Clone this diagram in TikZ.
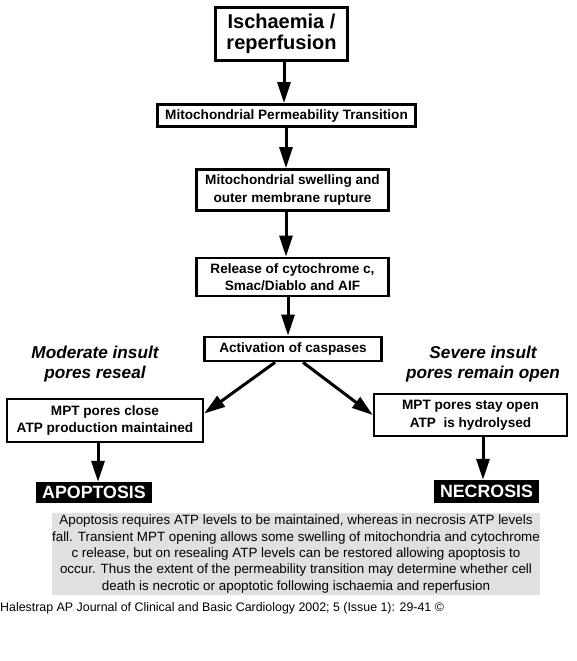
\documentclass[tikz,border=0pt]{standalone}
\usepackage{fontspec}
\setmainfont{Liberation Sans}
\usetikzlibrary{arrows.meta,calc}
\definecolor{boxgray}{HTML}{E0E0E0}
\begin{document}
\begin{tikzpicture}[x=1pt,y=1pt,
  flowbox/.style={draw, line width=2.8pt, align=center, inner sep=0pt,
    font=\bfseries\fontsize{13.6}{17.5}\selectfont},
  sidebox/.style={draw, line width=2.4pt, align=center, inner sep=0pt,
    font=\bfseries\fontsize{13.6}{17.5}\selectfont},
  endbox/.style={fill=black, text=white, inner sep=0pt,
    font=\bfseries\fontsize{17.8}{20}\selectfont},
  insult/.style={align=center, font=\bfseries\itshape\fontsize{17.2}{20.5}\selectfont},
  arr/.style={line width=3pt, -{Triangle[width=13pt,length=21pt]}}]
\useasboundingbox (0,0) rectangle (576,-661);
\fill[white] (0,0) rectangle (576,-661);

\node[flowbox, line width=3.2pt, minimum width=132pt, minimum height=53pt,
  font=\bfseries\fontsize{20}{21.5}\selectfont] (isch) at (281.5,-34) {Ischaemia /\\reperfusion};
\node[flowbox, minimum width=258pt, minimum height=22pt] (mpt) at (286.5,-115.5) {Mitochondrial Permeability Transition};
\node[flowbox, minimum width=192pt, minimum height=41pt] (swell) at (292.5,-190) {Mitochondrial swelling and\\outer membrane rupture};
\node[flowbox, minimum width=192pt, minimum height=38pt] (rel) at (292.5,-277) {Release of cytochrome c,\\Smac/Diablo and AIF};
\node[flowbox, minimum width=177pt, minimum height=24pt] (casp) at (293,-349) {Activation of caspases};

\node[insult] (modl) at (95,-364) {Moderate insult\\pores reseal};
\node[insult] (sevl) at (483,-364) {Severe insult\\pores remain open};

\node[sidebox, minimum width=196pt, minimum height=43pt] (left) at (105,-420.5) {MPT pores close\\ATP production maintained};
\node[sidebox, minimum width=193pt, minimum height=42pt] (right) at (470.5,-415) {MPT pores stay open\\ATP\ \ is hydrolysed};

\node[endbox, minimum width=116pt, minimum height=21pt] (apop) at (94,-492.5) {APOPTOSIS};
\node[endbox, minimum width=105pt, minimum height=23pt] (necr) at (486.5,-491.5) {NECROSIS};

\node[fill=boxgray, minimum width=486pt, minimum height=82pt, inner sep=0pt, align=center,
  font=\fontsize{13.4}{16.3}\selectfont] (note) at (296,-554)
  {Apoptosis requires ATP levels to be maintained, whereas in necrosis ATP levels\\
   fall. Transient MPT opening allows some swelling of mitochondria and cytochrome\\
   c release, but on resealing ATP levels can be restored allowing apoptosis to\\
   occur. Thus the extent of the permeability transition may determine whether cell\\
   death is necrotic or apoptotic following ischaemia and reperfusion};

\node[anchor=west, inner sep=0pt, font=\fontsize{12.4}{14}\selectfont] (foot) at (0,-608)
  {Halestrap AP Journal of Clinical and Basic Cardiology 2002; 5 (Issue 1): 29-41 ©};

\draw[arr] ([xshift=2.5pt]isch.south) -- ([xshift=2.5pt]isch.south |- mpt.north);
\draw[arr] ([xshift=-0.5pt]mpt.south) -- ([xshift=-0.5pt]mpt.south |- swell.north);
\draw[arr] ([xshift=-6.5pt]swell.south) -- ([xshift=-6.5pt]swell.south |- rel.north);
\draw[arr] ([xshift=-4.5pt]rel.south) -- ([xshift=-4.5pt]rel.south |- casp.north);
\draw[arr] ([xshift=-18pt]casp.south) -- ([yshift=7pt]left.east);
\draw[arr] ([xshift=10pt]casp.south) -- (right.west);
\draw[arr] ([xshift=-7pt]left.south) -- ([xshift=-7pt]left.south |- apop.north);
\draw[arr] ([xshift=12.5pt]right.south) -- ([xshift=12.5pt]right.south |- necr.north);
\end{tikzpicture}
\end{document}
